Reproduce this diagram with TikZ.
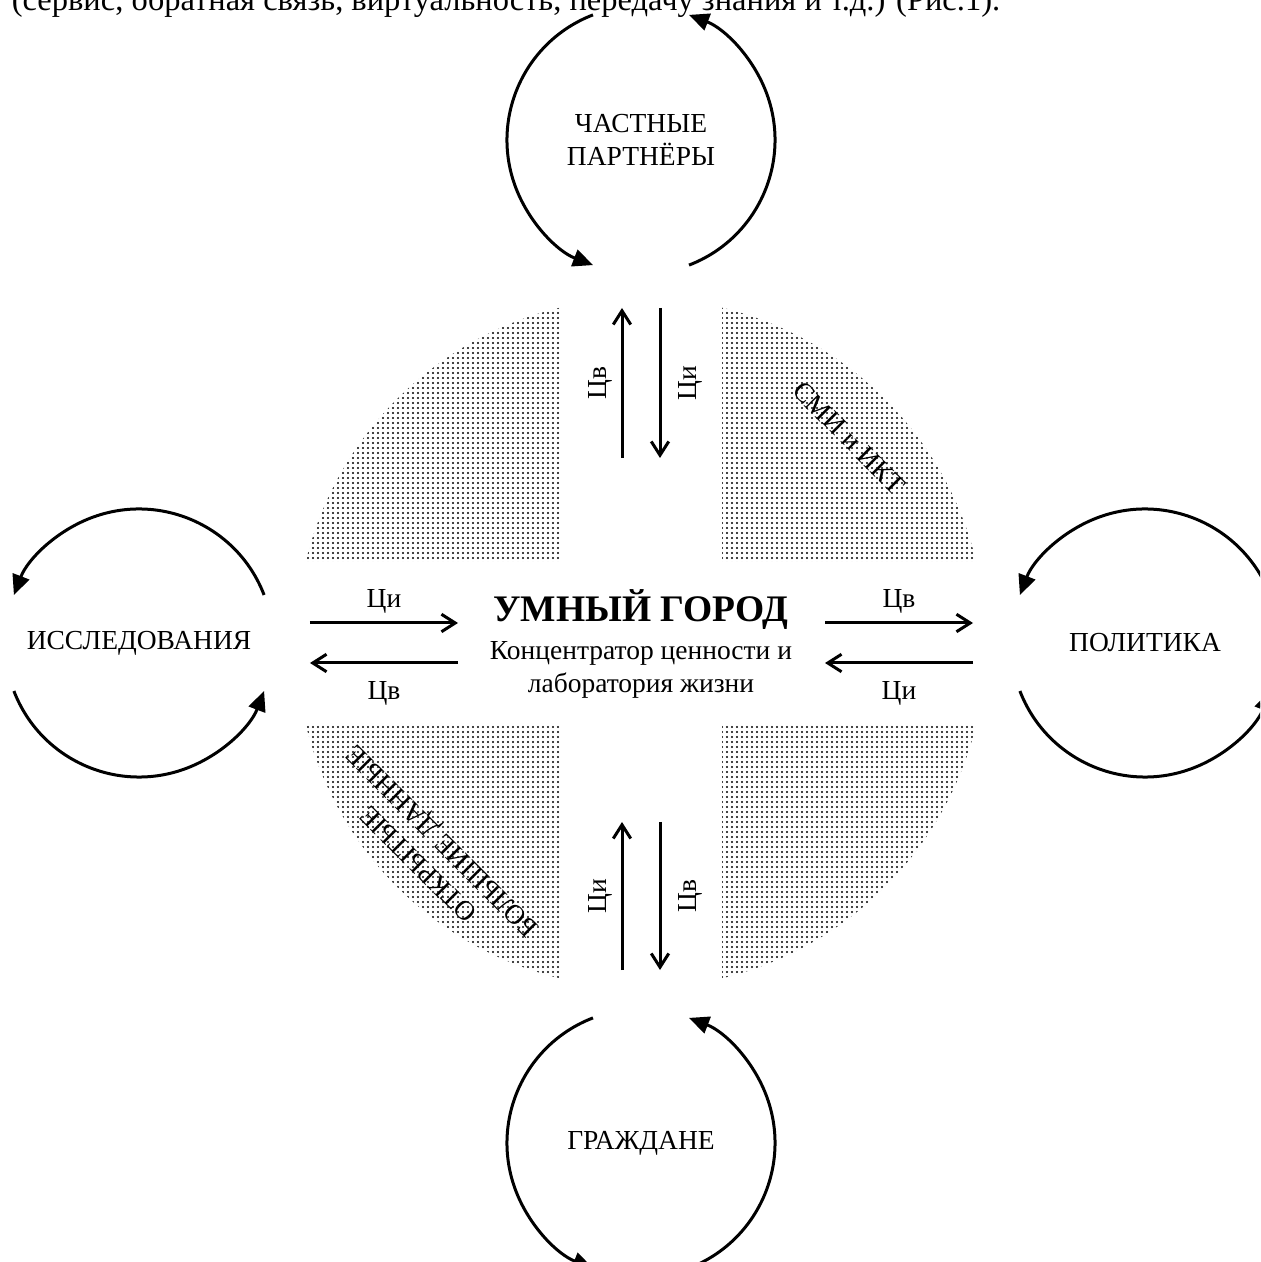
\documentclass[tikz,border=0pt]{standalone}
\usepackage{fontspec}
\setmainfont{Liberation Serif}
\usetikzlibrary{arrows.meta,patterns.meta}

\tikzdeclarepattern{
  name=smalldots,
  type=uncolored,
  bottom left={(0pt,0pt)},
  top right={(1.8pt,1.8pt)},
  tile size={(1.8pt,1.8pt)},
  code={\pgfpathcircle{\pgfpoint{0.9pt}{0.9pt}}{0.52pt}\pgfusepath{fill}}
}

\begin{document}
\begin{tikzpicture}[x=40pt,y=40pt,
    every node/.style={font=\fontsize{11}{13.2}\selectfont},
    roundarrow/.style={line width=1.2pt,-{Triangle[length=8pt,width=7pt]}},
    flowarrow/.style={line width=1.2pt,-{Straight Barb[length=5.5pt,width=7pt]}},
    dotarea/.style={pattern=smalldots,pattern color=black}]
  \useasboundingbox (-6.41,-6.19) rectangle (6.19,6.43);
  \clip (-6.41,-6.19) rectangle (6.19,6.43);

  % dotted quarters
  \foreach \a in {0,90,180,270}
    \fill[dotarea,rotate=\a] (0.81,0.81) -- (13.58:3.45)
         arc[start angle=13.58,end angle=76.42,radius=3.45] -- cycle;

  \node (intro) [anchor=base west,font=\fontsize{13}{15}\selectfont] at (-6.38,6.32)
        {(сервис, обратная связь, виртуальность, передачу знания и т.д.) (Рис.1).};

  \node (hub) [align=center] at (0,-0.01)
        {{\fontsize{15}{18}\selectfont\bfseries УМНЫЙ ГОРОД}\\[2pt]
         Концентратор ценности и\\лаборатория жизни};
  \node (partners) [align=center] at (0,5.03) {ЧАСТНЫЕ\\ПАРТНЁРЫ};
  \node (research) at (-5.02,0) {ИССЛЕДОВАНИЯ};
  \node (policy)   at (5.04,0)  {ПОЛИТИКА};
  \node (citizens) at (0,-5.0)  {ГРАЖДАНЕ};
  \node (media) [rotate=-45] at (2.08,2.05) {СМИ и ИКТ};
  \node (data)  [rotate=135,align=center] at (-2.09,-2.08) {ОТКРЫТЫЕ\\БОЛЬШИЕ ДАННЫЕ};

  \foreach \n/\s in {partners/111,partners/-69,citizens/111,citizens/-69,
                     research/21,research/201,policy/21,policy/201}
    \draw[roundarrow] ([shift={(\s:1.34)}]\n.center)
         arc[start angle=\s,delta angle=138,radius=1.34];

  % arrow ends
  \coordinate (W1) at (-3.31, 0.20);
  \coordinate (W2) at (-1.83, 0.20);
  \coordinate (W3) at (-3.31,-0.20);
  \coordinate (W4) at (-1.83,-0.20);
  \coordinate (E1) at ( 1.84, 0.20);
  \coordinate (E2) at ( 3.32, 0.20);
  \coordinate (E3) at ( 1.84,-0.20);
  \coordinate (E4) at ( 3.32,-0.20);
  \coordinate (N1) at (-0.19, 1.85);
  \coordinate (N2) at (-0.19, 3.35);
  \coordinate (N3) at ( 0.19, 1.85);
  \coordinate (N4) at ( 0.19, 3.35);
  \coordinate (S1) at (-0.19,-1.79);
  \coordinate (S2) at (-0.19,-3.27);
  \coordinate (S3) at ( 0.19,-1.79);
  \coordinate (S4) at ( 0.19,-3.27);

  \begin{scope}[every node/.style={midway,font=\fontsize{11}{13.2}\selectfont}]
    \draw[flowarrow] (W1) -- node (lw1) [above] {Ци} (W2);
    \draw[flowarrow] (W4) -- node (lw2) [below,outer sep=4pt] {Цв} (W3);
    \draw[flowarrow] (E1) -- node (le1) [above] {Цв} (E2);
    \draw[flowarrow] (E4) -- node (le2) [below,outer sep=4pt] {Ци} (E3);
    \draw[flowarrow] (N1) -- node (ln1) [rotate=90,anchor=south] {Цв} (N2);
    \draw[flowarrow] (N4) -- node (ln2) [rotate=90,anchor=north,outer sep=4pt] {Ци} (N3);
    \draw[flowarrow] (S2) -- node (ls1) [rotate=90,anchor=south] {Ци} (S1);
    \draw[flowarrow] (S3) -- node (ls2) [rotate=90,anchor=north,outer sep=4pt] {Цв} (S4);
  \end{scope}
\end{tikzpicture}
\end{document}
